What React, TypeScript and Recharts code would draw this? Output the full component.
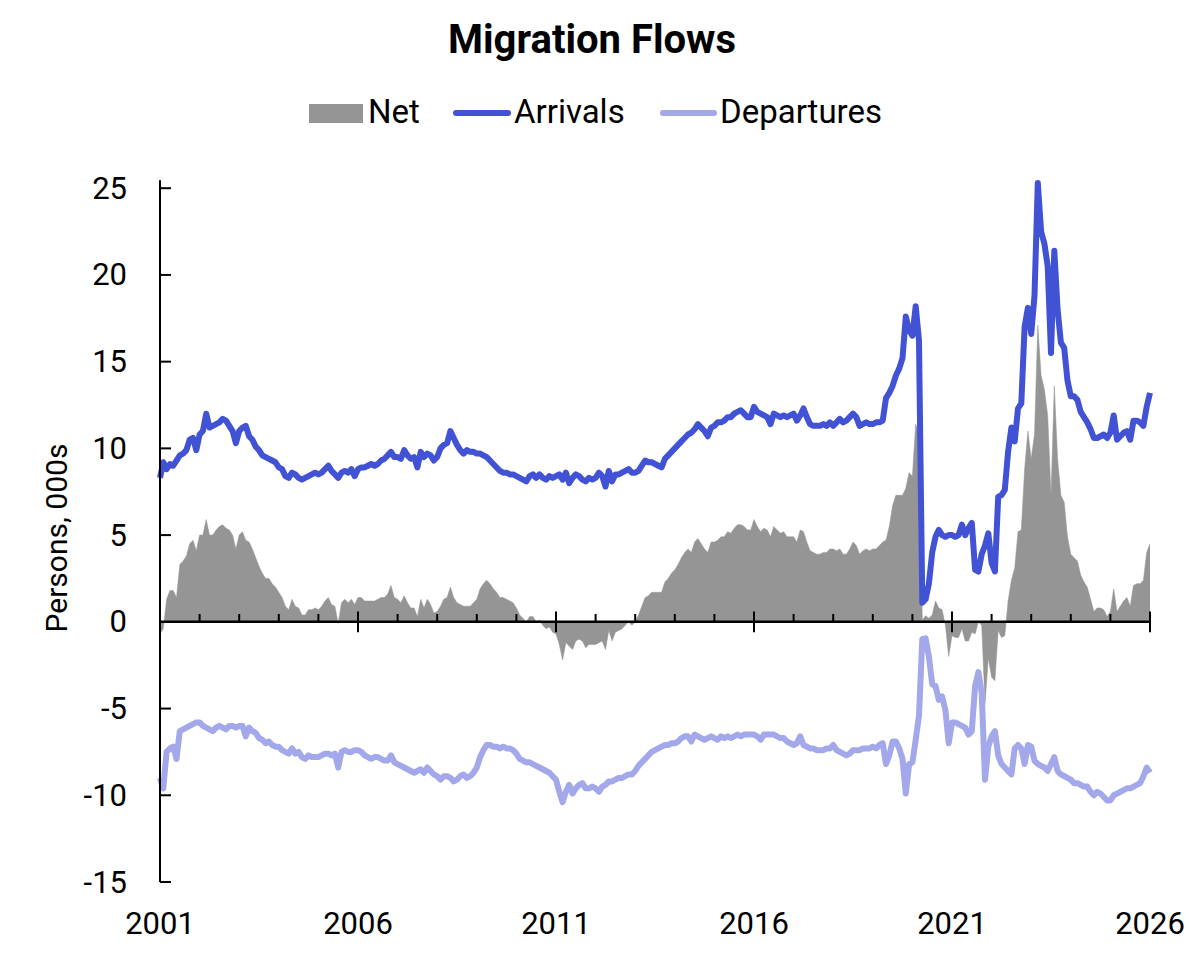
import React from 'react';
import { ComposedChart, Area, Line, XAxis, YAxis, ReferenceLine } from 'recharts';

const START_YEAR = 2001;

// Monthly arrivals, thousands (Jan 2001 .. Jan 2026)
const ARRIVALS: number[] = [
  8.3, 9.2, 8.8, 9.1, 9.0, 9.3, 9.6, 9.7, 9.9, 10.5, 10.6, 9.9, // 2001
  10.8, 11.0, 12.0, 11.2, 11.3, 11.4, 11.5, 11.7, 11.6, 11.3, 11.0, 10.3, // 2002
  11.0, 11.2, 11.3, 10.7, 10.5, 10.1, 9.9, 9.6, 9.5, 9.4, 9.3, 9.2, // 2003
  8.9, 8.8, 8.4, 8.3, 8.6, 8.5, 8.3, 8.2, 8.3, 8.4, 8.5, 8.6, // 2004
  8.5, 8.6, 8.8, 9.0, 8.7, 8.5, 8.3, 8.6, 8.7, 8.6, 8.8, 8.4, // 2005
  8.8, 8.9, 8.9, 9.0, 9.1, 9.0, 9.1, 9.3, 9.4, 9.6, 9.8, 9.5, // 2006
  9.5, 9.4, 9.9, 9.6, 9.4, 9.5, 8.9, 9.8, 9.5, 9.7, 9.6, 9.3, // 2007
  9.5, 10.0, 10.2, 10.3, 11.0, 10.6, 10.2, 9.9, 9.7, 9.9, 9.8, 9.8, // 2008
  9.7, 9.7, 9.6, 9.5, 9.3, 9.1, 8.9, 8.7, 8.6, 8.6, 8.5, 8.5, // 2009
  8.4, 8.3, 8.2, 8.1, 8.4, 8.5, 8.3, 8.5, 8.3, 8.2, 8.4, 8.3, // 2010
  8.4, 8.5, 8.2, 8.6, 8.0, 8.3, 8.5, 8.4, 8.2, 8.1, 8.3, 8.2, // 2011
  8.3, 8.6, 8.4, 7.8, 8.7, 8.1, 8.5, 8.5, 8.6, 8.7, 8.8, 8.6, // 2012
  8.6, 8.7, 9.0, 9.3, 9.2, 9.2, 9.1, 9.0, 8.9, 9.4, 9.6, 9.8, // 2013
  10.0, 10.2, 10.4, 10.6, 10.8, 10.9, 11.1, 11.4, 11.2, 11.0, 10.7, 11.2, // 2014
  11.3, 11.5, 11.5, 11.6, 11.8, 11.8, 12.0, 12.1, 12.2, 12.0, 11.8, 11.8, // 2015
  12.4, 12.1, 12.0, 11.9, 11.8, 11.4, 12.0, 11.9, 11.8, 11.9, 11.8, 11.9, // 2016
  12.0, 11.6, 11.9, 12.3, 11.8, 11.4, 11.3, 11.3, 11.3, 11.4, 11.3, 11.5, // 2017
  11.3, 11.5, 11.7, 11.5, 11.6, 11.8, 12.0, 11.8, 11.3, 11.4, 11.5, 11.4, // 2018
  11.4, 11.5, 11.5, 11.6, 12.9, 13.2, 13.6, 14.2, 14.6, 15.2, 17.6, 16.8, // 2019
  16.5, 18.2, 16.2, 1.1, 1.3, 2.2, 4.0, 4.9, 5.3, 5.0, 4.9, 5.0, // 2020
  5.0, 4.9, 5.0, 5.6, 5.0, 5.4, 5.7, 3.0, 2.9, 3.9, 4.4, 5.1, // 2021
  3.4, 2.9, 7.2, 7.3, 7.6, 9.8, 11.2, 10.4, 12.3, 12.6, 17.0, 18.1, // 2022
  16.6, 18.8, 25.3, 22.5, 21.8, 20.5, 15.5, 21.4, 18.0, 16.1, 15.8, 13.9, // 2023
  13.0, 13.0, 12.8, 12.1, 11.8, 11.5, 11.1, 10.6, 10.6, 10.7, 10.8, 10.6, // 2024
  10.9, 11.9, 10.5, 10.7, 10.9, 11.0, 10.5, 11.6, 11.6, 11.5, 11.3, 12.4, // 2025
  13.2, // 2026
];

// Monthly departures, thousands (negative), Jan 2001 .. Jan 2026
const DEPARTURES: number[] = [
  -9.0, -9.6, -7.5, -7.3, -7.2, -7.9, -6.3, -6.2, -6.1, -6.0, -5.9, -5.8, // 2001
  -5.8, -6.0, -6.1, -6.2, -6.3, -6.1, -6.0, -6.1, -6.2, -6.0, -6.0, -6.1, // 2002
  -6.0, -6.0, -6.6, -6.1, -6.3, -6.4, -6.7, -6.8, -7.0, -6.9, -7.1, -7.2, // 2003
  -7.2, -7.4, -7.5, -7.6, -7.3, -7.6, -7.5, -7.8, -7.9, -7.7, -7.8, -7.8, // 2004
  -7.8, -7.7, -7.6, -7.6, -7.7, -7.6, -8.4, -7.5, -7.4, -7.5, -7.5, -7.4, // 2005
  -7.4, -7.5, -7.7, -7.8, -7.9, -7.8, -7.8, -7.9, -8.0, -8.0, -7.7, -8.1, // 2006
  -8.2, -8.3, -8.4, -8.5, -8.6, -8.7, -8.6, -8.5, -8.7, -8.4, -8.6, -8.8, // 2007
  -8.9, -9.1, -8.9, -8.9, -9.0, -9.2, -9.1, -8.9, -8.8, -9.0, -8.9, -8.7, // 2008
  -8.4, -7.8, -7.4, -7.1, -7.1, -7.2, -7.2, -7.3, -7.2, -7.3, -7.3, -7.4, // 2009
  -7.6, -7.9, -8.0, -8.1, -8.1, -8.2, -8.3, -8.4, -8.5, -8.6, -8.7, -8.9, // 2010
  -9.1, -9.8, -10.4, -9.8, -9.4, -9.9, -9.6, -9.4, -9.3, -9.6, -9.6, -9.5, // 2011
  -9.6, -9.8, -9.5, -9.4, -9.2, -9.2, -9.1, -9.0, -9.0, -8.9, -8.8, -8.8, // 2012
  -8.6, -8.3, -8.1, -7.9, -7.7, -7.5, -7.4, -7.3, -7.2, -7.1, -7.1, -7.0, // 2013
  -7.0, -6.9, -6.7, -6.6, -6.6, -6.9, -6.5, -6.6, -6.7, -6.8, -6.7, -6.6, // 2014
  -6.7, -6.8, -6.6, -6.7, -6.6, -6.7, -6.6, -6.5, -6.6, -6.5, -6.5, -6.5, // 2015
  -6.5, -6.6, -6.8, -6.5, -6.5, -6.5, -6.5, -6.6, -6.7, -6.7, -6.9, -7.0, // 2016
  -7.1, -7.0, -6.6, -7.1, -7.2, -7.3, -7.3, -7.4, -7.4, -7.4, -7.3, -7.3, // 2017
  -7.1, -7.4, -7.5, -7.6, -7.7, -7.6, -7.4, -7.4, -7.4, -7.3, -7.3, -7.3, // 2018
  -7.2, -7.3, -7.1, -7.0, -8.2, -7.7, -6.9, -6.9, -7.3, -7.9, -9.9, -8.2, // 2019
  -8.1, -6.8, -5.4, -1.0, -0.95, -2.0, -3.6, -3.7, -4.5, -4.3, -5.1, -7.0, // 2020
  -5.8, -5.8, -5.9, -6.0, -6.1, -6.5, -6.3, -3.7, -2.9, -4.1, -9.1, -7.2, // 2021
  -6.6, -6.3, -7.7, -8.2, -8.4, -8.6, -8.8, -7.3, -7.1, -7.3, -8.2, -7.1, // 2022
  -7.2, -8.0, -8.2, -8.3, -8.4, -8.6, -8.2, -7.8, -8.6, -8.8, -8.9, -9.0, // 2023
  -9.1, -9.3, -9.3, -9.4, -9.5, -9.5, -9.8, -10.0, -9.8, -9.9, -10.1, -10.3, // 2024
  -10.3, -10.0, -9.9, -9.8, -9.7, -9.6, -9.6, -9.5, -9.4, -9.3, -8.9, -8.4, // 2025
  -8.7, // 2026
];

const Y_TICKS = [-15, -10, -5, 0, 5, 10, 15, 20, 25];
const LABEL_YEARS = [2001, 2006, 2011, 2016, 2021, 2026];
const MAJOR_TICK_YEARS = [2006, 2011, 2016, 2021, 2026];
const MINOR_TICK_YEARS = [
  2002, 2003, 2004, 2005, 2007, 2008, 2009, 2010, 2012, 2013, 2014, 2015,
  2017, 2018, 2019, 2020, 2022, 2023, 2024, 2025,
];

const monthKey = (i: number) =>
  `${START_YEAR + Math.floor(i / 12)}-${String((i % 12) + 1).padStart(2, '0')}`;
const yearKey = (y: number) => `${y}-01`;

const data = ARRIVALS.map((a, i) => ({
  month: monthKey(i),
  arrivals: a,
  departures: DEPARTURES[i],
  net: Math.round((a + DEPARTURES[i]) * 100) / 100,
}));

const NET_COLOR = '#959595';
const ARR_COLOR = '#4152D5';
const DEP_COLOR = '#A2A8EA';
const FONT = 'Roboto, "Noto Sans", sans-serif';

const Y_TICK_MARGIN = 33;

const YTick = (props: any) => {
  const { x, y, payload } = props;
  const ax = x + Y_TICK_MARGIN;
  return (
    <g>
      {payload.value !== 0 && (
        <line x1={ax} x2={ax + 11} y1={y} y2={y} stroke="#000" strokeWidth={2} />
      )}
      {payload.value === 25 && (
        <line x1={ax} x2={ax} y1={y - 8} y2={y} stroke="#000" strokeWidth={2} />
      )}
      <text
        x={x}
        y={y}
        textAnchor="end"
        dominantBaseline="central"
        fontSize={31}
        fontFamily={FONT}
        fill="#000"
      >
        {payload.value}
      </text>
    </g>
  );
};

export default function App() {
  return (
    <div
      style={{
        position: 'absolute',
        left: 0,
        top: 0,
        width: 1188,
        height: 960,
        background: '#fff',
        overflow: 'hidden',
      }}
    >
      <ComposedChart
        width={1188}
        height={960}
        data={data}
        margin={{ top: 183, right: 38, bottom: 18, left: 0 }}
      >
        <XAxis
          dataKey="month"
          type="category"
          ticks={LABEL_YEARS.map(yearKey)}
          interval={0}
          tickFormatter={(v: string) => v.slice(0, 4)}
          axisLine={false}
          tickLine={false}
          tickSize={0}
          tickMargin={30}
          height={60}
          tick={{ fontSize: 31, fill: '#000', fontFamily: FONT }}
        />
        <YAxis
          type="number"
          domain={[-15, 25]}
          ticks={Y_TICKS}
          interval={0}
          width={160}
          tickSize={0}
          tickMargin={Y_TICK_MARGIN}
          tickLine={false}
          axisLine={{ stroke: '#000', strokeWidth: 2 }}
          tick={<YTick />}
        />
        <Area
          dataKey="net"
          type="linear"
          fill={NET_COLOR}
          fillOpacity={1}
          stroke={NET_COLOR}
          strokeWidth={0.5}
          baseValue={0}
          isAnimationActive={false}
          dot={false}
          activeDot={false}
        />
        <ReferenceLine y={0} stroke="#000" strokeWidth={2.5} />
        {MINOR_TICK_YEARS.map((yr) => (
          <ReferenceLine
            key={`mi${yr}`}
            segment={[
              { x: yearKey(yr), y: 0 },
              { x: yearKey(yr), y: 0.45 },
            ]}
            stroke="#000"
            strokeWidth={2}
          />
        ))}
        {MAJOR_TICK_YEARS.map((yr) => (
          <ReferenceLine
            key={`ma${yr}`}
            segment={[
              { x: yearKey(yr), y: -0.6 },
              { x: yearKey(yr), y: 0.6 },
            ]}
            stroke="#000"
            strokeWidth={2}
          />
        ))}
        <Line
          dataKey="departures"
          type="linear"
          stroke={DEP_COLOR}
          strokeWidth={6}
          strokeLinejoin="round"
          dot={false}
          activeDot={false}
          isAnimationActive={false}
        />
        <Line
          dataKey="arrivals"
          type="linear"
          stroke={ARR_COLOR}
          strokeWidth={6}
          strokeLinejoin="round"
          dot={false}
          activeDot={false}
          isAnimationActive={false}
        />
      </ComposedChart>
      <svg
        width={1188}
        height={960}
        style={{ position: 'absolute', left: 0, top: 0, pointerEvents: 'none' }}
      >
        <text
          x={592}
          y={53}
          textAnchor="middle"
          fontSize={40}
          fontWeight={700}
          fontFamily={FONT}
          fill="#000"
        >
          Migration Flows
        </text>
        <g fontFamily={FONT} fontSize={33} fill="#000">
          <rect x={309} y={104} width={54} height={19} fill={NET_COLOR} />
          <text x={368} y={123}>Net</text>
          <line x1={456} x2={508} y1={113} y2={113} stroke={ARR_COLOR} strokeWidth={6} strokeLinecap="round" />
          <text x={514} y={123}>Arrivals</text>
          <line x1={663} x2={714} y1={113} y2={113} stroke={DEP_COLOR} strokeWidth={6} strokeLinecap="round" />
          <text x={720} y={123}>Departures</text>
        </g>
        <text
          transform="translate(67,538) rotate(-90)"
          textAnchor="middle"
          fontSize={30}
          fontFamily={FONT}
          fill="#000"
        >
          Persons, 000s
        </text>
      </svg>
    </div>
  );
}
